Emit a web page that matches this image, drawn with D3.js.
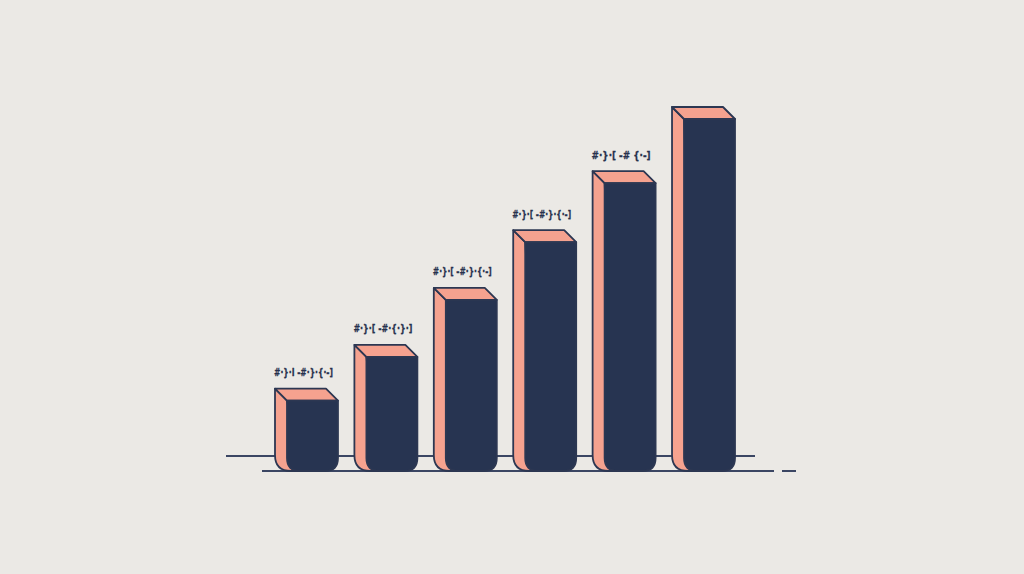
<!DOCTYPE html>
<html>
<head>
<meta charset="utf-8">
<script src="https://cdn.jsdelivr.net/npm/d3@7/dist/d3.min.js"></script>
<style>
html,body{margin:0;padding:0;background:#ebe9e5;}
svg{display:block;}
</style>
</head>
<body>
<svg id="chart" width="1024" height="574"></svg>
<script>
const categories = ["1", "2", "3", "4", "5", "6"];
const values = [20, 32.4, 48.6, 65, 81.8, 100];
const valueLabels = ["#·}·I -#·}·{·-]", "#·}·[ -#·{·}·]", "#·}·[ -#·}·{·-]", "#·}·[ -#·}·{·-]", "#·}·[ -# {·-]", ""];

const W = 1024, H = 574;
const navy = "#273451", salmon = "#f5a28f", stroke = "#2c3752", bg = "#ebe9e5";
const svg = d3.select("#chart");
svg.append("rect").attr("width", W).attr("height", H).attr("fill", bg);

const baseY = 471;
const x = d3.scaleBand().domain(categories).range([287, 735]).paddingInner(0.358).paddingOuter(0);
const y = d3.scaleLinear().domain([0, 100]).range([baseY, 119]);
const depth = 12;
const rF = 13, rS = 16;

// baselines (behind bars)
const lines = svg.append("g").attr("stroke", "#3b4663").attr("stroke-width", 2).attr("stroke-linecap", "butt");
lines.append("line").attr("x1", 226).attr("x2", 755).attr("y1", 456).attr("y2", 456);
lines.append("line").attr("x1", 262).attr("x2", 774).attr("y1", baseY).attr("y2", baseY);
lines.append("line").attr("x1", 782).attr("x2", 796).attr("y1", baseY).attr("y2", baseY);

const bw = x.bandwidth();
const bars = svg.append("g").selectAll("g").data(categories).join("g");

// side face
bars.append("path")
  .attr("d", (c, i) => {
    const x0 = x(c), t = y(values[i]);
    const p = d3.path();
    p.moveTo(x0 - depth, t - depth);
    p.lineTo(x0, t);
    p.lineTo(x0 + rF, baseY);
    p.lineTo(x0 - depth + rS, baseY);
    p.quadraticCurveTo(x0 - depth, baseY, x0 - depth, baseY - rS);
    p.closePath();
    return p.toString();
  })
  .attr("fill", salmon).attr("stroke", stroke).attr("stroke-width", 1.8).attr("stroke-linejoin", "round");

// top face
bars.append("path")
  .attr("d", (c, i) => {
    const x0 = x(c), t = y(values[i]);
    return `M${x0 - depth},${t - depth}L${x0 + bw - depth},${t - depth}L${x0 + bw},${t}L${x0},${t}Z`;
  })
  .attr("fill", salmon).attr("stroke", stroke).attr("stroke-width", 1.8).attr("stroke-linejoin", "round");

// front face
bars.append("path")
  .attr("d", (c, i) => {
    const x0 = x(c), t = y(values[i]), x1 = x0 + bw;
    const p = d3.path();
    p.moveTo(x0, t);
    p.lineTo(x1, t);
    p.lineTo(x1, baseY - rF);
    p.quadraticCurveTo(x1, baseY, x1 - rF, baseY);
    p.lineTo(x0 + rF, baseY);
    p.quadraticCurveTo(x0, baseY, x0, baseY - rF);
    p.closePath();
    return p.toString();
  })
  .attr("fill", navy).attr("stroke", stroke).attr("stroke-width", 1.8).attr("stroke-linejoin", "round");

// value labels
bars.filter((c, i) => valueLabels[i] !== "")
  .append("text")
  .attr("x", c => x(c) - depth - 1)
  .attr("y", (c, i) => y(values[i]) - depth - 12.5)
  .attr("textLength", 59)
  .attr("lengthAdjust", "spacingAndGlyphs")
  .attr("font-family", "DejaVu Sans, sans-serif")
  .attr("font-weight", "bold")
  .attr("font-size", 11)
  .attr("fill", "#27314d")
  .attr("stroke", "#27314d")
  .attr("stroke-width", 0.3)
  .text((c, i) => valueLabels[i]);
</script>
</body>
</html>
